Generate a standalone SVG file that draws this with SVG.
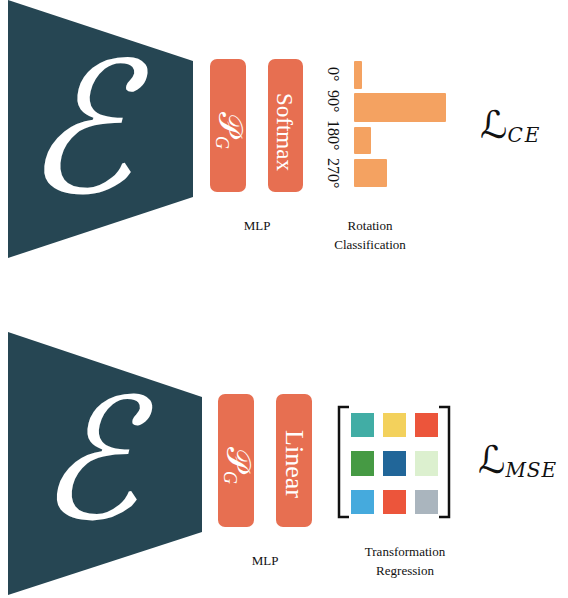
<svg xmlns="http://www.w3.org/2000/svg" width="568" height="598" viewBox="0 0 568 598">
<style>
.enc{fill:#264653}
.pill{fill:#E76F51}
.bar{fill:#F4A261}
.lbl{font-family:"Liberation Serif",serif;font-size:13px;fill:#111;text-anchor:middle}
.ang{font-family:"Liberation Serif",serif;font-size:16px;fill:#111}
.ptxt{font-family:"Liberation Serif",serif;fill:#fff}
.script{font-family:"DejaVu Serif","DejaVu Sans",serif;fill:#fff}
.loss{font-family:"DejaVu Serif","DejaVu Sans",serif;fill:#111}
.sub{font-family:"DejaVu Serif",serif;font-style:italic;font-size:20px}
.gsub{font-family:"Liberation Serif",serif;font-style:italic;font-size:18px}
.brk{fill:none;stroke:#111;stroke-width:2.5}
</style>
<rect width="568" height="598" fill="#fff"/>
<g id="encoder-top">
<polygon class="enc" points="8,0 193,61 193,197 8,258"/>
<text class="script" transform="translate(78,192) skewX(-14)" font-size="182" text-anchor="middle">ℰ</text>
</g>
<g id="pg-top">
<rect class="pill" x="210" y="59" width="36" height="133" rx="7"/>
<text class="ptxt" transform="translate(219,112) rotate(90)" font-size="33"><tspan>𝒫</tspan><tspan class="gsub" dy="3">G</tspan></text>
</g>
<g id="softmax">
<rect class="pill" x="268" y="59" width="35" height="133" rx="7"/>
<text class="ptxt" transform="translate(277,132) rotate(90)" font-size="23" text-anchor="middle">Softmax</text>
</g>
<g id="rotation-bars">
<rect class="bar" x="354" y="61" width="8" height="28" rx="1"/>
<rect class="bar" x="354" y="93" width="92" height="29" rx="1"/>
<rect class="bar" x="354" y="127" width="17" height="27" rx="1"/>
<rect class="bar" x="354" y="159" width="33" height="28" rx="1"/>
<text class="ang" transform="translate(328,67) rotate(90)">0°</text>
<text class="ang" transform="translate(328,90) rotate(90)">90°</text>
<text class="ang" transform="translate(328,120) rotate(90)">180°</text>
<text class="ang" transform="translate(328,158) rotate(90)">270°</text>
</g>
<g id="labels-top">
<text class="lbl" x="257" y="230">MLP</text>
<text class="lbl" x="370" y="230">Rotation</text>
<text class="lbl" x="370" y="249">Classification</text>
</g>
<g id="loss-ce">
<text class="loss" x="480" y="138" font-size="38">ℒ<tspan class="sub" letter-spacing="2" dy="4">CE</tspan></text>
</g>
<g id="encoder-bottom">
<polygon class="enc" points="8,332 202,397 202,532 8,595"/>
<text class="script" transform="translate(88,518) skewX(-14)" font-size="168" text-anchor="middle">ℰ</text>
</g>
<g id="pg-bottom">
<rect class="pill" x="218" y="394" width="36" height="133" rx="7"/>
<text class="ptxt" transform="translate(227,447) rotate(90)" font-size="33"><tspan>𝒫</tspan><tspan class="gsub" dy="3">G</tspan></text>
</g>
<g id="linear">
<rect class="pill" x="276" y="394" width="36" height="133" rx="7"/>
<text class="ptxt" transform="translate(286,464) rotate(90)" font-size="26" text-anchor="middle">Linear</text>
</g>
<g id="matrix">
<path class="brk" d="M349,407 H339 V517 H349"/>
<path class="brk" d="M439,407 H449 V517 H439"/>
<rect x="351" y="413" width="23" height="24" fill="#41ADA5"/>
<rect x="383" y="413" width="23" height="24" fill="#F3D15C"/>
<rect x="415" y="413" width="23" height="24" fill="#EC553B"/>
<rect x="351" y="451" width="23" height="25" fill="#469A44"/>
<rect x="383" y="451" width="23" height="25" fill="#216699"/>
<rect x="415" y="451" width="23" height="25" fill="#DCF0CF"/>
<rect x="351" y="490" width="23" height="24" fill="#45AADD"/>
<rect x="383" y="490" width="23" height="24" fill="#EC553B"/>
<rect x="415" y="490" width="23" height="24" fill="#AAB5BE"/>
</g>
<g id="labels-bottom">
<text class="lbl" x="265" y="565">MLP</text>
<text class="lbl" x="405" y="556">Transformation</text>
<text class="lbl" x="405" y="575">Regression</text>
</g>
<g id="loss-mse">
<text class="loss" x="478" y="473" font-size="38">ℒ<tspan class="sub" letter-spacing="1" dy="4">MSE</tspan></text>
</g>
<g id="connectors"/>
</svg>
